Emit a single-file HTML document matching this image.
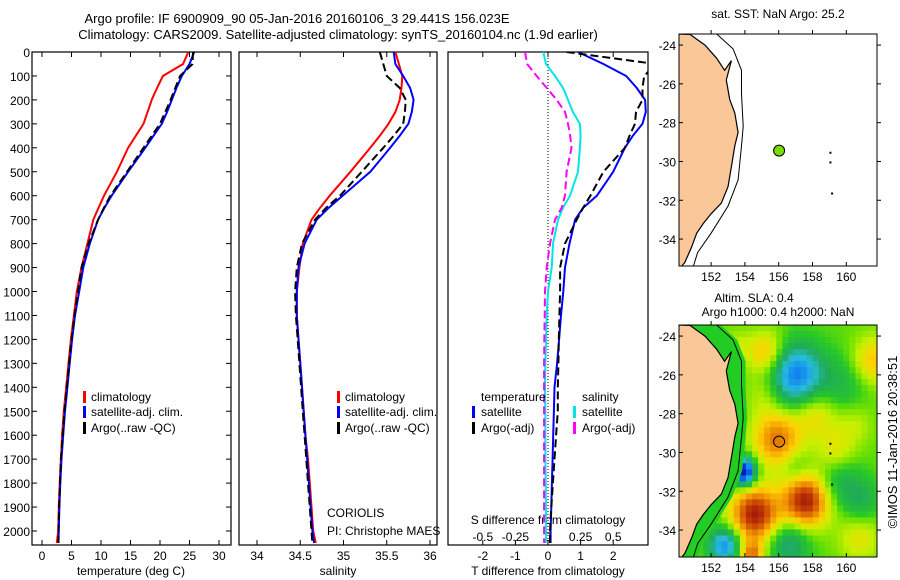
<!DOCTYPE html>
<html><head><meta charset="utf-8">
<style>
html,body{margin:0;padding:0;background:#fff;}
svg{display:block;font-family:"Liberation Sans",sans-serif;font-size:12px;}
</style></head>
<body>
<svg id="fig" width="900" height="580" viewBox="0 0 900 580" xmlns="http://www.w3.org/2000/svg">
<text x="297" y="23" text-anchor="middle" font-size="13">Argo profile: IF 6900909_90 05-Jan-2016 20160106_3 29.441S 156.023E</text>
<text x="338" y="39" text-anchor="middle" font-size="13">Climatology: CARS2009. Satellite-adjusted climatology: synTS_20160104.nc (1.9d earlier)</text>
<text x="778" y="18" text-anchor="middle">sat. SST: NaN Argo: 25.2</text>
<text x="754" y="302" text-anchor="middle">Altim. SLA: 0.4</text>
<text x="778" y="316" text-anchor="middle">Argo h1000: 0.4 h2000: NaN</text>
<text transform="translate(897,442) rotate(-90)" text-anchor="middle" font-size="13">©IMOS 11-Jan-2016 20:38:51</text>
<text x="131" y="575" text-anchor="middle">temperature (deg C)</text>
<text x="338" y="575" text-anchor="middle">salinity</text>
<text x="548" y="575" text-anchor="middle">T difference from climatology</text>
<text x="548" y="524" text-anchor="middle">S difference from climatology</text>
<text x="327" y="517">CORIOLIS</text>
<text x="327" y="535">PI: Christophe MAES</text>
</svg>
<script>
// ---------- data ----------
const depths = [0,50,100,150,200,250,300,350,400,500,600,650,700,800,900,1000,1100,1200,1300,1400,1500,1600,1700,1800,1900,2000,2050];
const tempClim = [24.8,23.9,20.5,19.5,18.6,17.9,17.2,15.9,14.6,12.7,10.5,9.6,8.7,7.7,6.7,5.9,5.4,4.9,4.5,4.1,3.7,3.4,3.2,3.0,2.85,2.75,2.5];
const tempSat = [25.8,25.0,23.7,22.8,22.0,21.2,20.3,18.9,17.5,14.6,11.8,10.6,9.5,8.1,7.0,6.3,5.6,5.1,4.7,4.3,3.9,3.6,3.3,3.1,2.95,2.85,2.8];
const tempArgo = [25.6,25.5,23.4,22.6,21.8,20.9,20.0,18.6,17.2,14.4,11.6,10.5,9.5,7.9,6.7,6.1,5.5,5.0,4.6,4.2,3.8,3.5,3.2,3.05,2.9,2.8,2.8];
const salClim = [35.60,35.64,35.68,35.67,35.65,35.60,35.52,35.42,35.31,35.08,34.84,34.73,34.63,34.53,34.49,34.46,34.46,34.48,34.50,34.52,34.54,34.56,34.59,34.61,34.63,34.65,34.68];
const salSat = [35.58,35.60,35.69,35.77,35.81,35.79,35.75,35.65,35.54,35.31,34.99,34.83,34.69,34.55,34.48,34.46,34.46,34.48,34.50,34.52,34.54,34.56,34.58,34.60,34.62,34.64,34.66];
const salArgo = [35.42,35.46,35.50,35.65,35.72,35.71,35.69,35.58,35.46,35.21,34.96,34.80,34.67,34.52,34.46,34.44,34.45,34.47,34.49,34.51,34.53,34.55,34.57,34.59,34.61,34.63,34.64];
const tDiffSat = [0.92,1.7,2.4,2.72,2.98,3.0,2.9,2.6,2.36,2.0,1.5,1.08,0.83,0.66,0.52,0.47,0.4,0.34,0.28,0.2,0.18,0.16,0.14,0.12,0.1,0.08,0.08];
const tDiffArgo = [0.57,3.3,2.95,2.9,2.9,2.7,2.67,2.5,2.36,1.7,1.3,1.08,0.88,0.52,0.37,0.37,0.35,0.33,0.32,0.3,0.3,0.25,0.2,0.15,0.1,0.06,0.06];
const sDiffSat = [-0.036,-0.015,0.054,0.115,0.153,0.19,0.245,0.25,0.245,0.23,0.169,0.115,0.077,0.038,0.028,0,-0.01,-0.015,-0.02,-0.023,-0.02,-0.02,-0.02,-0.018,-0.016,-0.016,-0.016];
const sDiffArgo = [-0.176,-0.16,-0.087,-0.01,0.067,0.13,0.153,0.17,0.18,0.143,0.13,0.105,0.054,0.015,-0.01,-0.023,-0.025,-0.028,-0.03,-0.03,-0.03,-0.03,-0.03,-0.03,-0.03,-0.03,-0.03];
const depthTicks = [0,100,200,300,400,500,600,700,800,900,1000,1100,1200,1300,1400,1500,1600,1700,1800,1900,2000];
const tempTicks = [0,5,10,15,20,25,30];
const salTicks = ["34","34.5","35","35.5","36"];
const tDiffTicks = [-2,-1,0,1,2];
const sDiffTicks = ["-0.5","-0.25","0","0.25","0.5"];
const lonTicks = [152,154,156,158,160];
const latTicks = [-24,-26,-28,-30,-32,-34];
const argoLon = 156.023, argoLat = -29.441;
// eddies: lon, lat, amplitude (m), radius (deg)
const eddyLon = [157.0,155.9,153.9,157.6,154.6,155.3,152.8,156.6,158.2,161.6,159.8,159.6,154.4,159.4,160.9,160.8,153.5,157.0,160.5,155.2];
const eddyLat = [-26.0,-29.3,-31.0,-32.5,-33.2,-24.9,-34.8,-34.7,-28.0,-25.3,-26.5,-31.4,-35.3,-30.0,-32.5,-34.4,-24.5,-30.8,-28.5,-27.0];
const eddyAmp = [-0.55,0.42,-0.85,0.62,0.62,0.3,-0.5,-0.28,0.22,0.28,-0.15,-0.18,0.4,0.18,-0.18,0.18,0.1,-0.12,0.12,0.12];
const eddyRad = [1.1,1.0,0.5,0.95,1.0,0.8,0.65,0.85,0.9,0.9,1.1,0.9,0.5,0.8,0.8,0.9,0.6,0.6,0.8,0.8];
const coastLon = [150.0,150.75,151.64,152.33,152.8,153.2,152.9,153.1,153.4,153.6,153.4,153.2,153.0,152.6,152.0,151.54,151.15,150.85,150.45,150.26,150.0];
const coastLat = [-23.43,-23.45,-24.0,-24.68,-25.3,-24.8,-25.8,-26.8,-27.5,-28.5,-29.2,-30.27,-31.3,-32.15,-32.7,-33.2,-33.7,-34.4,-35.2,-35.4,-35.4];
const isoLon = [152.33,153.3,153.8,153.8,153.9,153.8,153.6,153.0,152.0,151.2,150.95];
const isoLat = [-23.43,-24.2,-25.3,-26.5,-28.2,-29.2,-30.95,-32.3,-33.7,-34.7,-35.4];

// ---------- helpers ----------
const NS = "http://www.w3.org/2000/svg";
const svg = document.getElementById('fig');
function mk(tag, attrs, parent){
  const e = document.createElementNS(NS, tag);
  for (const k in attrs) e.setAttribute(k, attrs[k]);
  (parent||svg).appendChild(e);
  return e;
}
const yTop = 52, yBot = 545;
const yD = d => yTop + d*0.2395;

const defs = mk('defs', {});
function clip(id,x,y,w,h){const c=mk('clipPath',{id:id},defs);mk('rect',{x:x,y:y,width:w,height:h},c);}
clip('c1',32,52,199,493); clip('c2',239,52,198,493); clip('c3',448,52,200,493);
clip('cm1',679,34,198,232); clip('cm2',679,325,198,232);

function panel(name,x0,x1){
  const r = mk('rect',{x:x0,y:yTop,width:x1-x0,height:yBot-yTop,fill:'none',stroke:'#000','stroke-width':1.2});
  
  
}
function line(name, xs, xf, color, dash, cid){
  let d='';
  for (let i=0;i<depths.length;i++){ d += (i?'L':'M') + xf(xs[i]).toFixed(1)+','+yD(depths[i]).toFixed(1); }
  const p = mk('path',{d:d,fill:'none',stroke:color,'stroke-width':2,'stroke-dasharray':dash||'none','clip-path':'url(#'+cid+')'});
  
  
}
function txt(name,x,y,s,anchor,extra){
  const t = mk('text',Object.assign({x:x,y:y,'text-anchor':anchor||'start'},extra||{}));
  t.textContent = s;
  
  
  return t;
}
function tick(name,x1,y1,x2,y2){
  const l = mk('line',{x1:x1,y1:y1,x2:x2,y2:y2,stroke:'#000','stroke-width':1});
  
  
}
function legBar(name,x,y,color){
  const r = mk('rect',{x:x,y:y-10,width:3,height:12,fill:color});
  
  
}

// ---------- panel 1: temperature ----------
const xT = t => 42 + t*5.9;
panel('temperature-panel',32,231);
depthTicks.forEach(d=>{
  tick('depth-tick',32,yD(d),37,yD(d)); tick('depth-tick-right',226,yD(d),231,yD(d));
  txt('depth-label',30,yD(d)+5,String(d),'end');
});
tempTicks.forEach(t=>{
  tick('temp-tick-bottom',xT(t),yBot,xT(t),yBot-5); tick('temp-tick-top',xT(t),yTop,xT(t),yTop+5);
  txt('temp-tick-label',xT(t),560,String(t),'middle');
});
line('temp-climatology-line',tempClim,xT,'#ff0000',null,'c1');
line('temp-satellite-line',tempSat,xT,'#0000ff',null,'c1');
line('temp-argo-line',tempArgo,xT,'#000000','8 4','c1');
legBar('legend-climatology-swatch',83,401,'#ff0000'); txt('legend-climatology',91,401,'climatology');
legBar('legend-satellite-swatch',83,416,'#0000ff'); txt('legend-satellite',91,416,'satellite-adj. clim.');
legBar('legend-argo-swatch',83,432,'#000'); txt('legend-argo',91,432,'Argo(..raw -QC)');

// ---------- panel 2: salinity ----------
const xS = s => 257 + (s-34)*86.5;
panel('salinity-panel',239,437);
salTicks.forEach(s=>{
  const v=parseFloat(s);
  tick('sal-tick-bottom',xS(v),yBot,xS(v),yBot-5); tick('sal-tick-top',xS(v),yTop,xS(v),yTop+5);
  txt('sal-tick-label',xS(v),560,s,'middle');
});
line('sal-climatology-line',salClim,xS,'#ff0000',null,'c2');
line('sal-satellite-line',salSat,xS,'#0000ff',null,'c2');
line('sal-argo-line',salArgo,xS,'#000000','8 4','c2');
legBar('sal-legend-climatology-swatch',337,401,'#ff0000'); txt('sal-legend-climatology',345,401,'climatology');
legBar('sal-legend-satellite-swatch',337,416,'#0000ff'); txt('sal-legend-satellite',345,416,'satellite-adj. clim.');
legBar('sal-legend-argo-swatch',337,432,'#000'); txt('sal-legend-argo',345,432,'Argo(..raw -QC)');

// ---------- panel 3: differences ----------
const xDT = v => 548 + v*32.6;
const xDS = v => 548 + v*130.4;
panel('difference-panel',448,648);
tDiffTicks.forEach(v=>{
  tick('tdiff-tick-bottom',xDT(v),yBot,xDT(v),yBot-5); tick('tdiff-tick-top',xDT(v),yTop,xDT(v),yTop+5);
  txt('tdiff-tick-label',xDT(v),560,String(v),'middle');
});
sDiffTicks.forEach(s=>txt('sdiff-tick-label',xDS(parseFloat(s)),541,s,'middle'));
const zl = mk('line',{x1:548,y1:yTop,x2:548,y2:yBot,stroke:'#000','stroke-width':1,'stroke-dasharray':'1 2'});


line('sdiff-satellite-line',sDiffSat,xDS,'#00e5e5',null,'c3');
line('sdiff-argo-line',sDiffArgo,xDS,'#ff00ff','8 4','c3');
line('tdiff-satellite-line',tDiffSat,xDT,'#0000ff',null,'c3');
line('tdiff-argo-line',tDiffArgo,xDT,'#000000','8 4','c3');
txt('diff-legend-temperature-head',481,401,'temperature');
legBar('diff-legend-tsat-swatch',472,416,'#0000ff'); txt('diff-legend-tsat',481,416,'satellite');
legBar('diff-legend-targo-swatch',472,432,'#000'); txt('diff-legend-targo',481,432,'Argo(-adj)');
txt('diff-legend-salinity-head',582,401,'salinity');
legBar('diff-legend-ssat-swatch',573,416,'#00e5e5'); txt('diff-legend-ssat',582,416,'satellite');
legBar('diff-legend-sargo-swatch',573,432,'#ff00ff'); txt('diff-legend-sargo',582,432,'Argo(-adj)');

// ---------- maps ----------
function mapProj(top){ return {x: lon => 679 + (lon-150.1)*16.9, y: lat => top + (-23.43-lat)*19.4}; }
function slaColor(v){
  const stops=[[-0.85,[0,0,150]],[-0.6,[0,60,230]],[-0.45,[20,140,240]],[-0.3,[40,190,220]],[-0.15,[30,170,90]],[0,[40,200,40]],[0.08,[110,225,0]],[0.18,[200,240,0]],[0.3,[255,210,0]],[0.42,[240,150,0]],[0.55,[210,80,0]],[0.7,[160,20,10]]];
  if(v<=stops[0][0]) return 'rgb('+stops[0][1]+')';
  for(let i=1;i<stops.length;i++){ if(v<=stops[i][0]){const a=stops[i-1],b=stops[i],f=(v-a[0])/(b[0]-a[0]);
    return 'rgb('+a[1].map((c,j)=>Math.round(c+(b[1][j]-c)*f)).join(',')+')';}}
  return 'rgb('+stops[stops.length-1][1]+')';
}
function drawMap(prefix,top,cid,heat){
  const P = mapProj(top);
  const g = mk('g',{'clip-path':'url(#'+cid+')'});
  
  
  if (heat){
    const cw=0.36, ch=0.31;
    for(let lon=150.1; lon<161.9; lon+=cw){
      for(let lat=-23.43; lat>-35.5; lat-=ch){
        const cl=lon+cw/2, ct=lat-ch/2;
        let v=0.06;
        for(let k=0;k<eddyLon.length;k++){const dx=cl-eddyLon[k],dy=ct-eddyLat[k];v+=eddyAmp[k]*Math.exp(-(dx*dx+dy*dy)/(2*eddyRad[k]*eddyRad[k]));}
        const r = mk('rect',{x:P.x(lon),y:P.y(lat),width:cw*16.9+0.6,height:ch*19.4+0.6,fill:slaColor(v)},g);
        
        
      }
    }
    let sd=''; coastLon.forEach((l,i)=>{sd+=(i?'L':'M')+P.x(l).toFixed(1)+','+P.y(coastLat[i]).toFixed(1);});
    for(let i=isoLon.length-1;i>=0;i--){ sd+='L'+(P.x(isoLon[i])+4).toFixed(1)+','+P.y(isoLat[i]).toFixed(1); }
    const shelf = mk('path',{d:sd+'Z',fill:'#22cc22'},g);
    
    
  }
  let cd=''; coastLon.forEach((l,i)=>{cd+=(i?'L':'M')+P.x(l).toFixed(1)+','+P.y(coastLat[i]).toFixed(1);});
  const land = mk('path',{d:cd+'Z',fill:'#fac898',stroke:'#000','stroke-width':1.2},g);
  
  
  let id=''; isoLon.forEach((l,i)=>{id+=(i?'L':'M')+P.x(l).toFixed(1)+','+P.y(isoLat[i]).toFixed(1);});
  const iso = mk('path',{d:id,fill:'none',stroke:'#000','stroke-width':1},g);
  
  
  [[159,-29.5],[159,-30],[159.1,-31.6]].forEach(p=>{
    const d = mk('rect',{x:P.x(p[0]),y:P.y(p[1]),width:2,height:2,fill:'#000'},g);
    
    
  });
  const dot = mk('circle',{cx:P.x(argoLon),cy:P.y(argoLat),r:5.5,fill:heat?'none':'#77dd00',stroke:'#000','stroke-width':1});
  
  
  const fr = mk('rect',{x:679,y:top,width:198,height:232,fill:'none',stroke:'#000','stroke-width':1});
  
  
  lonTicks.forEach(l=>{
    tick('lon-tick',P.x(l),top,P.x(l),top-4); tick('lon-tick-bottom',P.x(l),top+232,P.x(l),top+228);
    txt('lon-label',P.x(l),top+247,String(l),'middle');
  });
  latTicks.forEach(l=>{
    tick('lat-tick',679,P.y(l),683,P.y(l)); tick('lat-tick-right',877,P.y(l),881,P.y(l));
    txt('lat-label',676,P.y(l)+5,String(l),'end');
  });
}
drawMap('sst-map',34,'cm1',false);
drawMap('sla-map',325,'cm2',true);
</script>
</body></html>
